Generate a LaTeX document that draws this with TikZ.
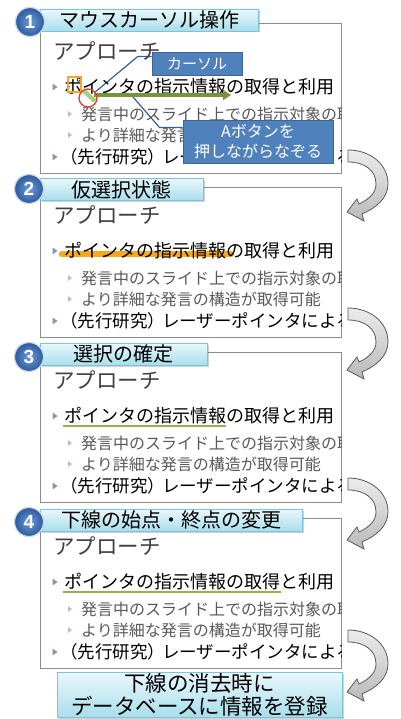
\documentclass[tikz,border=0pt]{standalone}
\usepackage{fontspec}
\setmainfont{Noto Sans CJK JP}
\newfontfamily\numfont{Liberation Sans}
\usetikzlibrary{arrows.meta,positioning,calc,shadows,backgrounds}
\definecolor{cFrame}{HTML}{8C8C8C}
\definecolor{cTitle}{HTML}{404040}
\definecolor{cSub}{HTML}{595959}
\definecolor{cBullet}{HTML}{8496B0}
\definecolor{cBulletLt}{HTML}{B4C0D0}
\definecolor{cHdrLine}{HTML}{7FC3D6}
\definecolor{cHdrTop}{HTML}{EAF8FC}
\definecolor{cHdrBot}{HTML}{A8DEEC}
\definecolor{cNumIn}{HTML}{6F9BD8}
\definecolor{cNumOut}{HTML}{2C5A9C}
\definecolor{cNumRing}{HTML}{C8D6EC}
\definecolor{cCallFill}{HTML}{4F81BD}
\definecolor{cCallLine}{HTML}{3B6597}
\definecolor{cLead}{HTML}{35609A}
\definecolor{cHot}{HTML}{F5A623}
\definecolor{cRing}{HTML}{E03C31}
\definecolor{cTrail}{HTML}{A6CF7E}
\definecolor{cDrag}{HTML}{77933C}
\definecolor{cHilite}{HTML}{F6A000}
\definecolor{cUline}{HTML}{92B54A}
\definecolor{cArrLine}{HTML}{5A5A5A}

\begin{document}
\begin{tikzpicture}[
  x=1pt, y=-1pt,
  slide/.style={draw=cFrame, line width=0.8pt},
  title/.style={anchor=west, inner sep=0pt, text=cTitle, font=\fontsize{21.5}{24}\selectfont},
  item/.style={anchor=west, inner sep=0pt, text=black, font=\fontsize{18}{20}\selectfont},
  subitem/.style={anchor=west, inner sep=0pt, text=cSub, font=\fontsize{16}{18}\selectfont},
  bul/.style={fill=cBullet},
  subbul/.style={fill=cBulletLt},
  hdr/.style={draw=cHdrLine, line width=0.6pt, top color=cHdrTop, bottom color=cHdrBot,
              minimum height=22pt, inner sep=0pt, font=\fontsize{20}{22}\selectfont,
              drop shadow={shadow xshift=1.5pt, shadow yshift=-1.5pt, opacity=0.3, fill=black!60}},
  numc/.style={circle, draw=cNumRing, line width=1.2pt, inner color=cNumIn, outer color=cNumOut,
               minimum size=29pt, inner sep=0pt, text=white,
               font=\numfont\bfseries\fontsize{19}{19}\selectfont},
  callout/.style={draw=cCallLine, line width=0.8pt, fill=cCallFill, text=white, align=center, inner sep=0pt},
  lead/.style={draw=cLead, line width=1.2pt},
  hotbox/.style={draw=cHot, line width=1.3pt},
  ring/.style={circle, draw=cRing, line width=1.3pt, minimum size=18pt, inner sep=0pt},
  trail/.style={cTrail, line width=4.5pt},
  drag/.style={cDrag, line width=4.5pt, -{Triangle[length=8pt,width=10pt]}},
  hilite/.style={cHilite, line width=6.5pt, line cap=round, opacity=0.9},
  uline/.style={cUline, line width=2pt},
  curvarr/.style={draw=cArrLine, line width=0.8pt, top color=gray!15, bottom color=gray!55},
]
\useasboundingbox (0,0) rectangle (400,719);

% ---------- marks under the text ----------
\draw[hilite] (62,254) -- (231,254);
\draw[uline] (63,426) -- (226,426);
\draw[uline] (63,592) -- (281,592);

% ---------- the four slides ----------
\foreach \T/\k in {23/1,187/2,352/3,518/4} {
  \draw[slide] (40,\T) rectangle (341,\T+150);
  \begin{scope}
    \clip (40,\T) rectangle (341,\T+150);
    \node[title] (ap\k) at (53,\T+28) {アプローチ};
    \fill[bul] (52.5,\T+60.5) -- (57.5,\T+64) -- (52.5,\T+67.5) -- cycle;
    \node[item] (pt\k) at (64,\T+64) {ポインタの指示情報の取得と利用};
    \fill[subbul] (68,\T+88) -- (72,\T+91) -- (68,\T+94) -- cycle;
    \node[subitem] (sa\k) at (81,\T+91) {発言中のスライド上での指示対象の取得};
    \fill[subbul] (68,\T+109) -- (72,\T+112) -- (68,\T+115) -- cycle;
    \node[subitem] (sb\k) at (81,\T+112) {より詳細な発言の構造が取得可能};
    \fill[bul] (52.5,\T+130.5) -- (57.5,\T+134) -- (52.5,\T+137.5) -- cycle;
    \node[item, font=\fontsize{17.5}{20}\selectfont] (pr\k) at (60,\T+134)
      {（先行研究）\kern-3pt レーザーポインタによる};
  \end{scope}
}

% ---------- cursor operation (slide 1) ----------
\draw[hotbox] (68,77) rectangle (81,92);
\draw[trail] (83,90) -- (95,101);
\draw[drag] (94,95) -- (231,95);
\node[ring] (cur) at (88,98) {};
\coordinate (tipB) at (133,97);
\node[callout, minimum width=90pt, minimum height=23pt, font=\fontsize{15}{17}\selectfont]
  (curlbl) at (197,63.5) {カーソル};
\node[callout, minimum width=150pt, minimum height=43pt, font=\fontsize{16}{20}\selectfont]
  (btnlbl) at (258,141.5) {Aボタンを\\押しながらなぞる};
\begin{scope}[on background layer]
  \draw[lead] ($(curlbl.north west)+(0,5)$) -- ++(-14,0) -- (cur);
  \draw[lead] ($(btnlbl.north west)+(0,8)$) -- ++(-23,0) -- (tipB);
\end{scope}

% ---------- step headers ----------
\node[hdr, anchor=west, minimum width=218pt] (hd1) at (40,20) {マウスカーソル操作};
\node[numc] (n1) at (30,22) {1};
\node[hdr, anchor=west, minimum width=163pt] (hd2) at (40,189.5) {仮選択状態};
\node[numc] (n2) at (29,189) {2};
\node[hdr, anchor=west, minimum width=167pt] (hd3) at (40,354) {選択の確定};
\node[numc] (n3) at (29,357) {3};
\node[hdr, anchor=west, minimum width=262pt] (hd4) at (40,520) {下線の始点・終点の変更};
\node[numc] (n4) at (29,522) {4};

% ---------- last step ----------
\node[hdr, minimum width=285pt, minimum height=45pt, align=center,
      font=\fontsize{21.5}{23}\selectfont] (dbnote) at (199.5,694.5)
  {下線の消去時に\\データベースに情報を登録};

% ---------- curved arrows ----------
\foreach \ty in {156,314,484,636}
  \draw[curvarr, shift={(348,\ty)}] (0,-6) .. controls (22,-6) and (40,8) .. (40,28)
    .. controls (40,42) and (28,52) .. (14,58) -- (16,65) -- (-1,56) -- (9,43) -- (11,48)
    .. controls (22,43) and (28,36) .. (28,28) .. controls (28,14) and (16,6) .. (0,6) -- cycle;

\end{tikzpicture}
\end{document}
